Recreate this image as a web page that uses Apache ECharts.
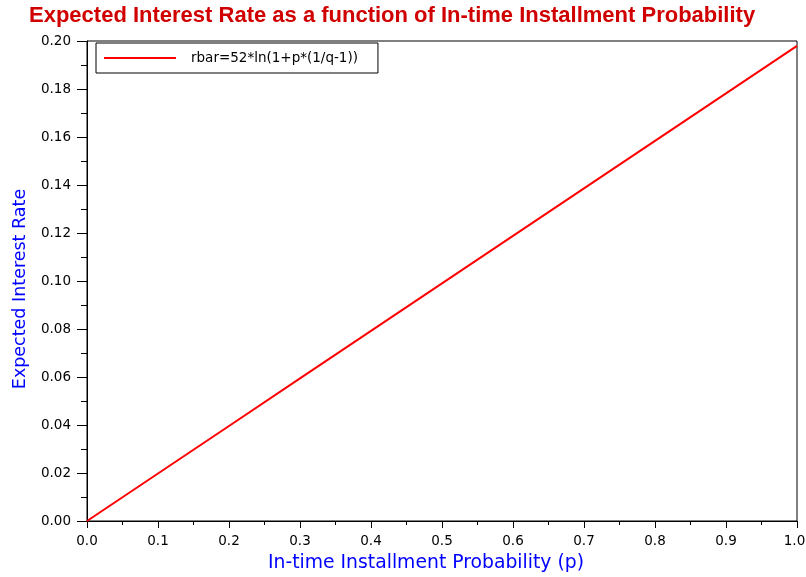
<!DOCTYPE html>
<html>
<head>
<meta charset="utf-8">
<script src="https://cdn.jsdelivr.net/npm/echarts@6/dist/echarts.min.js"></script>
<style>html,body{margin:0;padding:0;background:#fff}#c{width:806px;height:577px}</style>
</head>
<body>
<div id="c"></div>
<script>
var titleText = "Expected Interest Rate as a function of In-time Installment Probability";
var xName = "In-time Installment Probability (p)";
var yName = "Expected Interest Rate";
var seriesName = "rbar=52*ln(1+p*(1/q-1))";
var pValues = [0.0, 0.1, 0.2, 0.3, 0.4, 0.5, 0.6, 0.7, 0.8, 0.9, 1.0];
var rbarValues = [0.0, 0.0198, 0.0396, 0.0594, 0.0792, 0.0990, 0.1188, 0.1386, 0.1584, 0.1782, 0.1980];

var chart = echarts.init(document.getElementById('c'), null, {renderer: 'canvas'});
var pts = pValues.map(function (p, i) { return [p, rbarValues[i]]; });
var tickFont = {fontFamily: 'DejaVu Sans', fontSize: 13.5, color: '#000'};
chart.setOption({
  animation: false,
  backgroundColor: '#ffffff',
  title: {
    text: titleText, left: 24, top: 3, padding: [2, 5, 2, 5],
    textStyle: {fontFamily: 'Liberation Sans', fontWeight: 'bold', fontSize: 22, color: '#d00000'}
  },
  legend: {
    left: 96, top: 43, orient: 'vertical',
    padding: [8, 20, 8, 8],
    borderColor: '#000', borderWidth: 1,
    itemWidth: 72, itemHeight: 2, icon: 'rect',
    textStyle: {fontFamily: 'DejaVu Sans', fontSize: 13.5, color: '#000', padding: [0, 0, 0, 10]},
    data: [seriesName]
  },
  grid: {left: 87, right: 9, top: 41, bottom: 56, show: true, borderColor: '#000', borderWidth: 1,
    backgroundColor: 'transparent', outerBoundsMode: 'none', containLabel: false},
  xAxis: {
    type: 'value', min: 0, max: 1, interval: 0.1,
    name: xName, nameLocation: 'middle', nameGap: 33,
    nameTextStyle: {fontFamily: 'DejaVu Sans', fontSize: 18.8, color: '#0000ff', padding: [0, 32, 0, 0]},
    axisLine: {show: true, lineStyle: {color: '#000', width: 1}},
    axisTick: {show: true, length: 7, lineStyle: {color: '#000'}},
    minorTick: {show: true, splitNumber: 2, length: 4, lineStyle: {color: '#000'}},
    splitLine: {show: false},
    axisLabel: {fontFamily: 'DejaVu Sans', fontSize: 13.5, color: '#000', margin: 13,
      rich: {e: {fontFamily: 'DejaVu Sans', fontSize: 13.5, color: '#000', padding: [0, 5, 0, 0]}},
      formatter: function (v) { return v >= 0.999 ? '{e|' + v.toFixed(1) + '}' : v.toFixed(1); }}
  },
  yAxis: {
    type: 'value', min: 0, max: 0.2, interval: 0.02,
    name: yName, nameLocation: 'middle', nameGap: 58, nameRotate: 90,
    nameTextStyle: {fontFamily: 'DejaVu Sans', fontSize: 17.5, color: '#0000ff', padding: [0, 16, 0, 0]},
    axisLine: {show: true, lineStyle: {color: '#000', width: 1}},
    axisTick: {show: true, length: 10, lineStyle: {color: '#000'}},
    minorTick: {show: true, splitNumber: 2, length: 6, lineStyle: {color: '#000'}},
    splitLine: {show: false},
    axisLabel: {fontFamily: 'DejaVu Sans', fontSize: 13.5, color: '#000', margin: 16,
      formatter: function (v) { return v.toFixed(2); }}
  },
  series: [{
    name: seriesName, type: 'line', data: pts, showSymbol: false, symbol: 'none',
    lineStyle: {color: '#ff0000', width: 2}, itemStyle: {color: '#ff0000'}
  }]
});
</script>
</body>
</html>
